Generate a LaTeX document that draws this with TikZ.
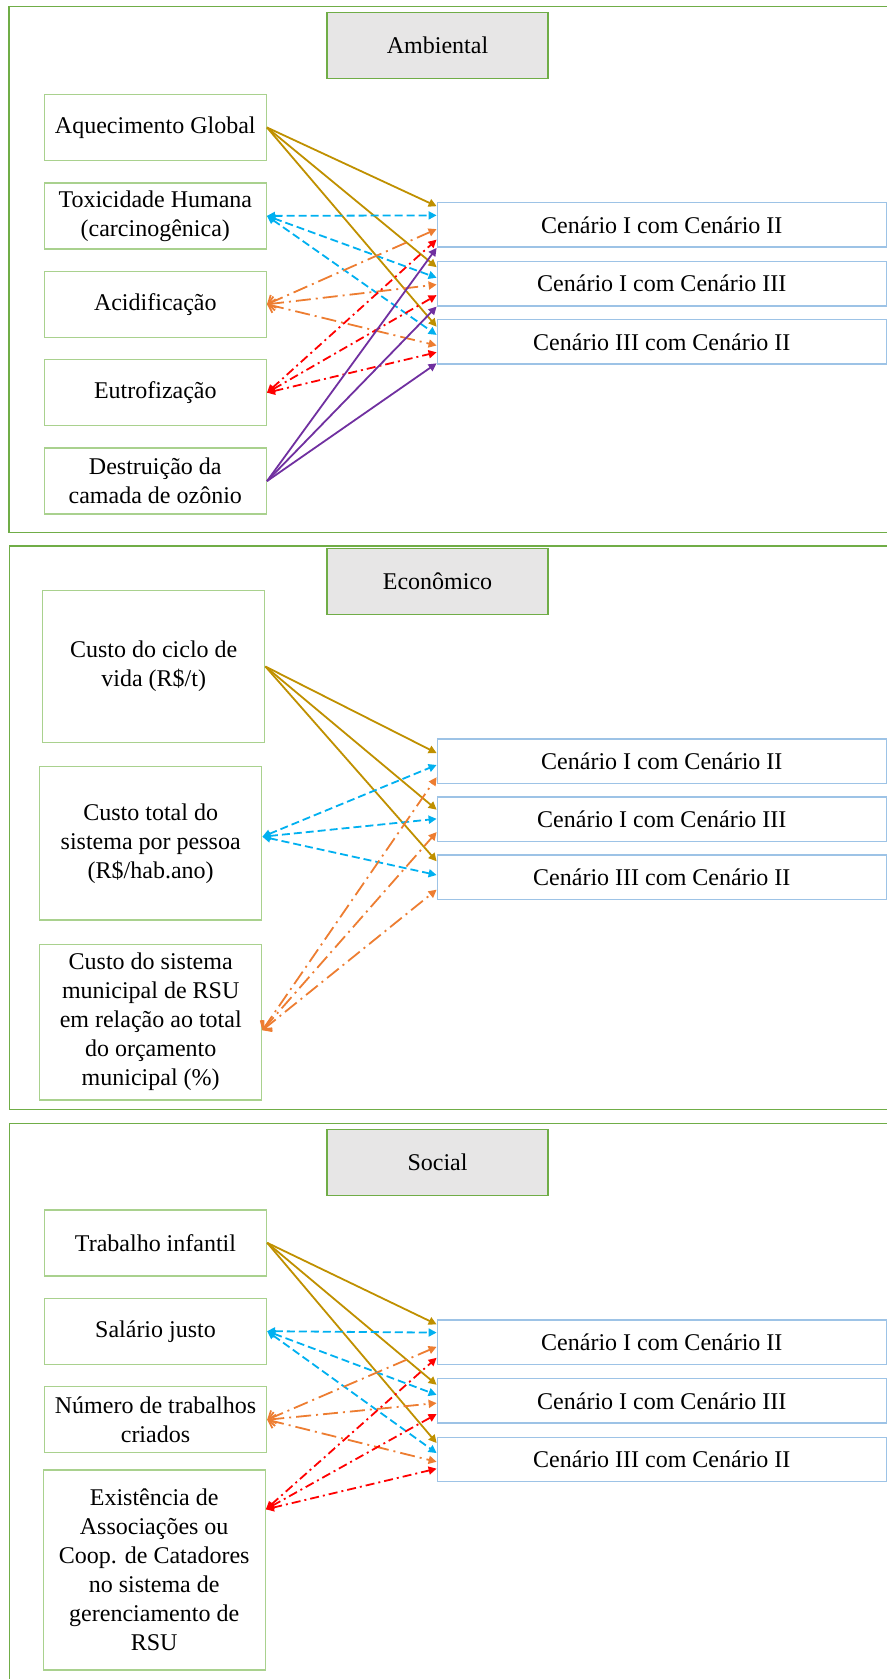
\documentclass[tikz,border=0pt]{standalone}
\usepackage{fontspec}
\setmainfont{Liberation Serif}
\usetikzlibrary{arrows.meta,calc}

\definecolor{framegreen}{HTML}{70AD47}
\definecolor{boxgreen}{HTML}{A9D18E}
\definecolor{cenblue}{HTML}{9DC3E6}
\definecolor{titlegray}{HTML}{E7E6E6}
\definecolor{ouro}{HTML}{BF9000}
\definecolor{azul}{HTML}{00B0F0}
\definecolor{laranja}{HTML}{ED7D31}
\definecolor{vermelho}{HTML}{FF0000}
\definecolor{roxo}{HTML}{7030A0}

\begin{document}
\begin{tikzpicture}[x=0.5pt, y=-0.5pt,
  secframe/.style={draw=framegreen, line width=0.7pt},
  dimbox/.style={draw=framegreen, fill=titlegray, line width=0.6pt, minimum width=110.5pt, minimum height=33pt, inner sep=0pt, font=\fontsize{12}{14.5}\selectfont},
  crit/.style={draw=boxgreen, fill=white, line width=0.7pt, align=center, minimum width=111pt, minimum height=33pt, inner sep=0pt, font=\fontsize{12}{14.5}\selectfont},
  cen/.style={draw=cenblue, fill=white, line width=0.7pt, minimum width=224.5pt, minimum height=22.2pt, inner sep=0pt, font=\fontsize{12}{14.5}\selectfont},
  tri/.tip={Triangle[length=4pt,width=4pt]},
  barb/.tip={Straight Barb[length=3pt,width=7pt]},
  link/.style={line width=0.9pt, -tri},
  ligaouro/.style={link, color=ouro},
  ligaazul/.style={link, color=azul, tri-tri, dash pattern=on 4pt off 2pt},
  ligalaranja/.style={link, color=laranja, barb-tri, dash pattern=on 7.5pt off 2.5pt on 1pt off 2.5pt},
  ligavermelho/.style={link, color=vermelho, tri-tri, dash pattern=on 4.5pt off 2pt on 1pt off 2pt},
  ligaroxo/.style={link, color=roxo}]

\useasboundingbox (0,0) rectangle (887,1679);

%frames
\draw[secframe] (887,6.7) -- (9,6.7) -- (9,532.7) -- (887,532.7);
\draw[secframe] (887,546) -- (9.3,546) -- (9.3,1109.3) -- (887,1109.3);
\draw[secframe] (887,1123.3) -- (9.3,1123.3) -- (9.3,1679);

%titles
\node[dimbox] (amb) at (437.5,45.3) {Ambiental};
\node[dimbox] (eco) at (437.5,581.7) {Econômico};
\node[dimbox] (soc) at (437.5,1162.7) {Social};

%ambiental criteria
\foreach \n/\y/\t in {aq/127.5/Aquecimento Global,
    tox/215.9/{Toxicidade Humana\\(carcinogênica)},
    aci/304.3/Acidificação,
    eut/392.7/Eutrofização,
    oz/481.1/{Destruição da\\camada de ozônio}}
  \node[crit] (\n) at (155.3,\y) {\t};

%economic criteria
\node[crit, minimum height=75.8pt] (cv) at (153.7,666.5) {Custo do ciclo de\\vida (R\$/t)};
\node[crit, minimum height=76.7pt] (ct) at (150.7,843.3) {Custo total do\\sistema por pessoa\\(R\$/hab.ano)};
\node[crit, minimum height=77.8pt] (cm) at (150.7,1022.2) {Custo do sistema\\municipal de RSU\\em relação ao total\\do orçamento\\municipal (\%)};

%social criteria
\foreach \n/\y/\t in {ti/1242.8/Trabalho infantil,
    sj/1331.2/Salário justo,
    nt/1419.7/{Número de trabalhos\\criados}}
  \node[crit] (\n) at (155.5,\y) {\t};
\node[crit, minimum height=100pt] (ex) at (154.2,1570) {Existência de\\Associações ou\\Coop. de Catadores\\no sistema de\\gerenciamento de\\RSU};

%scenarios
\foreach \s/\ya/\yb/\yc in {a/225/283.7/341.8, e/761.3/819.3/877.3, s/1342.2/1400.8/1459.5} {
  \node[cen] (\s1) at (661.8,\ya) {Cenário I com Cenário II};
  \node[cen] (\s2) at (661.8,\yb) {Cenário I com Cenário III};
  \node[cen] (\s3) at (661.8,\yc) {Cenário III com Cenário II};
}

%ambiental links
\foreach \c/\f in {a1/0.09, a2/0.14, a3/0.17}
  \draw[ligaouro] (aq.east) -- ($(\c.north west)!\f!(\c.south west)$);
\foreach \c/\f in {a1/0.29, a2/0.37, a3/0.35}
  \draw[ligaazul] (tox.east) -- ($(\c.north west)!\f!(\c.south west)$);
\foreach \c/\f in {a1/0.59, a2/0.52, a3/0.58}
  \draw[ligalaranja] (aci.east) -- ($(\c.north west)!\f!(\c.south west)$);
\foreach \c/\f in {a1/0.82, a2/0.75, a3/0.73}
  \draw[ligavermelho] (eut.east) -- ($(\c.north west)!\f!(\c.south west)$);
\foreach \c/\f in {a1/1.0, a2/1.0, a3/0.97}
  \draw[ligaroxo] (oz.east) -- ($(\c.north west)!\f!(\c.south west)$);

%economic links
\foreach \c/\f in {e1/0.32, e2/0.29, e3/0.15}
  \draw[ligaouro] (cv.east) -- ($(\c.north west)!\f!(\c.south west)$);
\foreach \c/\f in {e1/0.58, e2/0.49, e3/0.45}
  \draw[ligaazul] ($(ct.east)+(0,-6.6)$) -- ($(\c.north west)!\f!(\c.south west)$);
\foreach \c/\f in {e1/0.85, e2/0.78, e3/0.77}
  \draw[ligalaranja] ($(cm.east)+(0,8)$) -- ($(\c.north west)!\f!(\c.south west)$);

%social links
\foreach \c/\f in {s1/0.11, s2/0.15, s3/0.14}
  \draw[ligaouro] (ti.east) -- ($(\c.north west)!\f!(\c.south west)$);
\foreach \c/\f in {s1/0.29, s2/0.37, s3/0.36}
  \draw[ligaazul] (sj.east) -- ($(\c.north west)!\f!(\c.south west)$);
\foreach \c/\f in {s1/0.6, s2/0.55, s3/0.55}
  \draw[ligalaranja] (nt.east) -- ($(\c.north west)!\f!(\c.south west)$);
\foreach \c/\f in {s1/0.84, s2/0.79, s3/0.70}
  \draw[ligavermelho] ($(ex.north east)+(0,40)$) -- ($(\c.north west)!\f!(\c.south west)$);

\end{tikzpicture}
\end{document}
